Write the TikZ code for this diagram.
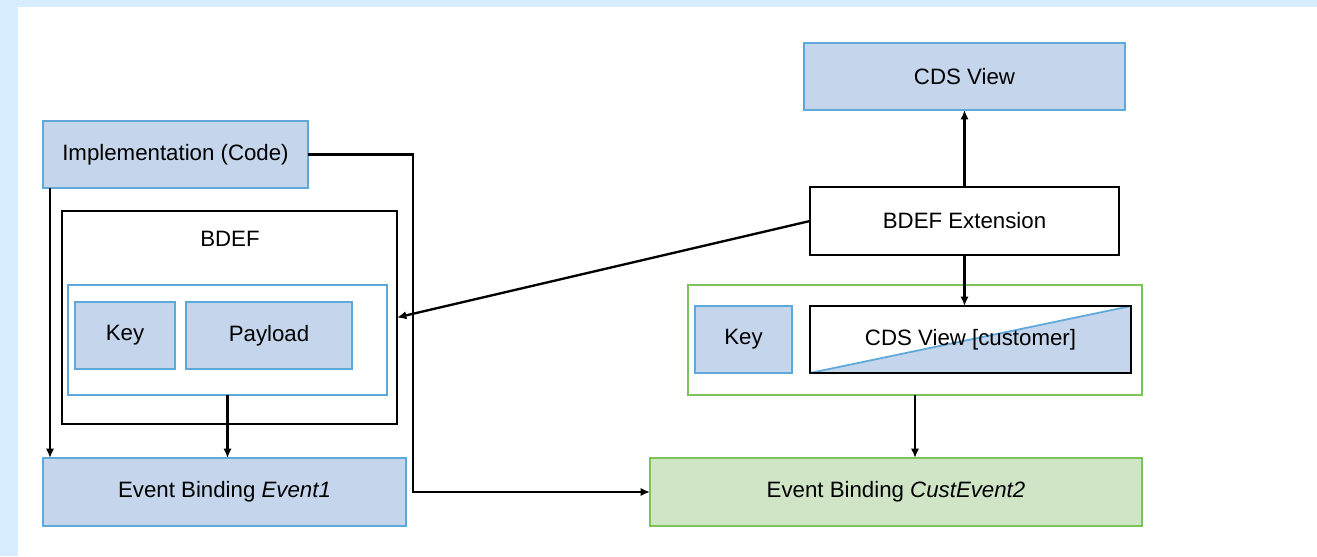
\documentclass[tikz,border=0pt]{standalone}
\usepackage{fontspec}
\setmainfont{Liberation Sans}
\usetikzlibrary{positioning,calc,arrows.meta}
\definecolor{bgblue}{HTML}{D5EDFE}
\definecolor{boxblue}{HTML}{C5D5EC}
\definecolor{lineblue}{HTML}{5FA8DA}
\definecolor{boxgreen}{HTML}{CFE5C6}
\definecolor{linegreen}{HTML}{7CC35A}
\def\pxu{0.03cm}

\begin{document}
\begin{tikzpicture}[x=0.03cm, y=-0.03cm, font=\fontsize{19}{23}\selectfont,
    box/.style 2 args={rectangle, inner sep=0pt, outer sep=0pt, minimum width=#1*\pxu, minimum height=#2*\pxu},
    bluebox/.style={fill=boxblue, draw=lineblue, line width=1.3pt},
    blackbox/.style={fill=white, draw=black, line width=2.5pt},
    arr/.style={-{Latex[length=8pt,width=7pt]}, line width=2pt}]
    % Frame
    \fill[bgblue] (0,0) rectangle (1317,556);
    \fill[white] (18,7) rectangle (1317,556);

    % Left side: BDEF
    \node[box={265}{67}, bluebox] (impl) at (175.5,154.5) {Implementation (Code)};
    \node[box={335}{213}, blackbox] (bdef) at (229.5,317.5) {};
    \node (bdeftitle) at (230,239) {BDEF};
    \node[box={319}{110}, draw=lineblue, line width=1.3pt] (keypay) at (227.5,340) {};
    \node[box={100}{67}, bluebox] (keyl) at (125,335.5) {Key};
    \node[box={166}{67}, bluebox] (payload) at (269,335.5) {Payload};
    \node[box={363}{68}, bluebox] (evbind1) at (224.5,492) {Event Binding \textit{Event1}};

    % Right side: BDEF Extension
    \node[box={321}{67}, bluebox] (cds) at (964.5,76.5) {CDS View};
    \node[box={309}{68}, blackbox] (bdefx) at (964.5,221) {BDEF Extension};
    \node[box={454}{110}, draw=linegreen, line width=1.3pt] (custframe) at (915,340) {};
    \node[box={97}{67}, bluebox] (keyr) at (743.5,339.5) {Key};
    \node[box={321}{67}, blackbox, path picture={
        \fill[boxblue] (path picture bounding box.south west) -- (path picture bounding box.south east)
            -- (path picture bounding box.north east) -- cycle;
        \draw[lineblue, line width=1.5pt] (path picture bounding box.south west) -- (path picture bounding box.north east);
    }] (cdscust) at (970.5,339.5) {CDS View [customer]};
    \node[box={492}{68}, fill=boxgreen, draw=linegreen, line width=1.3pt] (evbind2) at (896,492) {Event Binding \textit{CustEvent2}};

    % Connectors
    \draw[arr] ($(impl.south west)+(7,0)$) -- ($(evbind1.north west)+(7,0)$);
    \draw[arr] (keypay.south) -- (keypay.south |- evbind1.north);
    \draw[arr] (impl.east) -- ++(105,0) |- (evbind2.west);
    \draw[arr] (bdefx.north) -- (cds.south);
    \draw[arr] (bdefx.west) -- (bdef.east);
    \draw[arr] (bdefx.south) -- (bdefx.south |- cdscust.north);
    \draw[arr] (custframe.south) -- (custframe.south |- evbind2.north);
\end{tikzpicture}
\end{document}
